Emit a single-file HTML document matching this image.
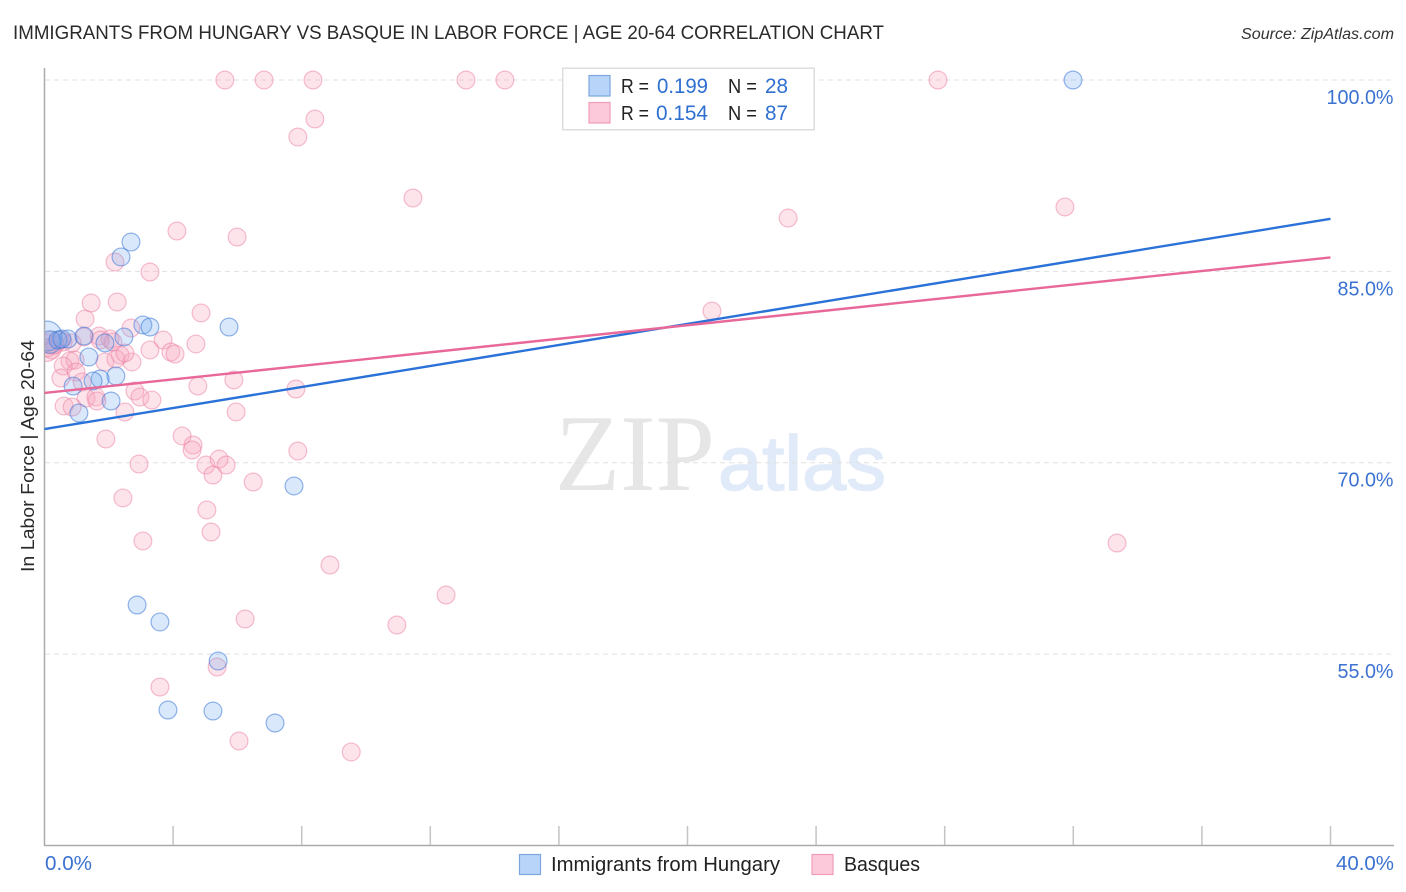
<!DOCTYPE html>
<html lang="en">
<head>
<meta charset="utf-8">
<title>Immigrants from Hungary vs Basque in Labor Force | Age 20-64 Correlation Chart</title>
<style>
html,body{margin:0;padding:0;background:#fff;}
svg{display:block;font-family:"Liberation Sans",sans-serif;}
</style>
</head>
<body>
<svg id="chart" xmlns="http://www.w3.org/2000/svg" width="1406" height="892" viewBox="0 0 1406 892">
  <defs>
    <clipPath id="plot-clip"><rect x="45" y="60" width="1355" height="785"/></clipPath>
  </defs>
  <rect x="0" y="0" width="1406" height="892" fill="#ffffff"/>

  <text x="13" y="39" font-size="19.5" fill="#2a2a2a" textLength="871" lengthAdjust="spacingAndGlyphs">IMMIGRANTS FROM HUNGARY VS BASQUE IN LABOR FORCE | AGE 20-64 CORRELATION CHART</text>
  <text x="1394" y="39" font-size="15.5" font-style="italic" fill="#333" text-anchor="end" textLength="153" lengthAdjust="spacingAndGlyphs">Source: ZipAtlas.com</text>

  <g>
    <text x="555" y="490" font-family="'Liberation Serif',serif" font-size="109" fill="#e6e6e6" textLength="160" lengthAdjust="spacingAndGlyphs">ZIP</text>
    <text x="718" y="490" font-size="77" fill="#e0eaf9" stroke="#e0eaf9" stroke-width="1.5" textLength="168" lengthAdjust="spacingAndGlyphs">atlas</text>
  </g>

  <g id="grid"></g>
  <g id="axes"></g>
  <g id="points" clip-path="url(#plot-clip)"></g>
  <g id="trends"></g>
  <g id="labels"></g>

  <text transform="translate(34,456) rotate(-90)" font-size="18.5" fill="#2a2a2a" text-anchor="middle" textLength="232" lengthAdjust="spacingAndGlyphs">In Labor Force | Age 20-64</text>

  <g>
    <rect x="562.75" y="68.25" width="251.5" height="61.5" fill="#ffffff" stroke="#dddddd" stroke-width="1.5"/>
    <rect x="589" y="75.5" width="21" height="20.5" fill="#b9d4f9" stroke="#7ba6e0" stroke-width="1.2"/>
    <rect x="589" y="102.5" width="21" height="20.5" fill="#fcc9da" stroke="#f09db9" stroke-width="1.2"/>
    <text x="621" y="93" font-size="20" fill="#222" textLength="28" lengthAdjust="spacingAndGlyphs">R =</text>
    <text x="657" y="93" font-size="21" fill="#2f6fd0" textLength="51" lengthAdjust="spacingAndGlyphs">0.199</text>
    <text x="728" y="93" font-size="20" fill="#222" textLength="29" lengthAdjust="spacingAndGlyphs">N =</text>
    <text x="765" y="93" font-size="21" fill="#2f6fd0" textLength="23" lengthAdjust="spacingAndGlyphs">28</text>
    <text x="621" y="120" font-size="20" fill="#222" textLength="28" lengthAdjust="spacingAndGlyphs">R =</text>
    <text x="656" y="120" font-size="21" fill="#2f6fd0" textLength="52" lengthAdjust="spacingAndGlyphs">0.154</text>
    <text x="728" y="120" font-size="20" fill="#222" textLength="29" lengthAdjust="spacingAndGlyphs">N =</text>
    <text x="765" y="120" font-size="21" fill="#2f6fd0" textLength="23" lengthAdjust="spacingAndGlyphs">87</text>
  </g>

  <g>
    <rect x="519.5" y="854.5" width="21" height="20" fill="#b9d4f9" stroke="#7ba6e0" stroke-width="1.2"/>
    <text x="551" y="871" font-size="20" fill="#222" textLength="229" lengthAdjust="spacingAndGlyphs">Immigrants from Hungary</text>
    <rect x="812" y="854.5" width="21" height="20" fill="#fcc9da" stroke="#f09db9" stroke-width="1.2"/>
    <text x="844" y="871" font-size="20" fill="#222" textLength="76" lengthAdjust="spacingAndGlyphs">Basques</text>
  </g>
</svg>
<script>
const yTicks = [100, 85, 70, 55];
const yTickLabels = ["100.0%", "85.0%", "70.0%", "55.0%"];
const xTicks = [0, 4, 8, 12, 16, 20, 24, 28, 32, 36, 40];
const xEndLabels = ["0.0%", "40.0%"];

const hungaryX = [0.08,0.73,1.23,1.88,2.47,3.06,3.28,5.74,1.38,2.22,1.73,1.51,0.89,2.07,1.07,2.69,2.38,7.76,2.88,3.59,5.40,3.84,5.24,7.17,31.99,0.17,0.42,0.54];
const hungaryY = [79.93,79.70,79.93,79.39,79.86,80.80,80.64,80.64,78.29,76.80,76.56,76.41,76.01,74.84,73.90,87.30,86.13,68.18,58.85,57.52,54.46,50.62,50.54,49.60,100,79.46,79.62,79.70];
const hungaryWeight = [2.8,1,1,1,1,1,1,1,1,1,1,1,1,1,1,1,1,1,1,1,1,1,1,1,1,1.6,1,1];

const basquesX = [5.61,6.83,8.35,13.11,14.32,27.79,8.41,7.88,11.46,23.13,31.74,4.12,5.99,2.19,3.28,20.76,33.36,1.45,2.26,4.87,1.26,2.69,1.70,2.04,3.69,4.71,3.28,3.93,4.06,2.35,2.72,1.88,2.22,0.79,0.95,0.58,0.98,0.51,1.17,4.77,5.89,2.81,2.97,3.34,1.29,1.60,1.63,0.61,0.86,2.50,5.96,1.91,4.28,4.62,4.59,2.94,5.02,5.43,5.65,5.24,7.88,6.49,2.44,5.05,5.18,3.06,8.88,12.49,10.96,6.24,5.37,3.59,6.05,9.54,7.82,0.05,0.23,0.58,0.86,1.23,0.33,0.23,2.13,2.50,1.73,0.08,0.48];
const basquesY = [100,100,100,100,100,100,96.94,95.53,90.75,89.18,90.05,88.16,87.69,85.73,84.95,81.89,63.71,82.52,82.60,81.74,81.27,80.56,79.93,79.70,79.62,79.31,78.84,78.68,78.52,78.44,77.90,77.90,78.13,77.97,78.05,77.58,77.11,76.64,76.33,76.01,76.49,75.62,75.15,74.92,75.07,75.15,74.84,74.45,74.37,73.98,73.98,71.86,72.10,71.39,71.00,69.90,69.82,70.29,69.82,69.04,70.92,68.49,67.24,66.30,64.57,63.87,61.98,59.63,57.28,57.75,53.99,52.42,48.19,47.33,75.78,79.00,79.40,79.46,79.39,79.86,79.23,78.84,79.46,78.60,79.62,78.99,79.62];
const basquesWeight = [1,1,1,1,1,1,1,1,1,1,1,1,1,1,1,1,1,1,1,1,1,1,1,1,1,1,1,1,1,1,1,1,1,1,1,1,1,1,1,1,1,1,1,1,1,1,1,1,1,1,1,1,1,1,1,1,1,1,1,1,1,1,1,1,1,1,1,1,1,1,1,1,1,1,1,2.3,1.6,1,1,1,1,1,1,1,1,1,1];

const trendX = [0, 40];
const hungaryTrend = [72.64, 89.12];
const basquesTrend = [75.47, 86.09];

const NS = "http://www.w3.org/2000/svg";
const xScale = v => 44.5 + v * 32.15;
const yScale = v => 80 + (100 - v) * 12.758;

function make(tag, attrs) {
  const el = document.createElementNS(NS, tag);
  for (const k in attrs) el.setAttribute(k, attrs[k]);
  return el;
}

const grid = document.getElementById("grid");
yTicks.forEach(function (t) {
  const line = make("line", {x1: 45, x2: 1394, y1: yScale(t), y2: yScale(t), stroke: "#e0e0e0", "stroke-width": 1, "stroke-dasharray": "5 4"});
  
  
  grid.appendChild(line);
});

const axes = document.getElementById("axes");
const yAxis = make("line", {x1: 44.5, x2: 44.5, y1: 68, y2: 846, stroke: "#ababab", "stroke-width": 1.5});


axes.appendChild(yAxis);
const xAxis = make("line", {x1: 44, x2: 1394, y1: 845.5, y2: 845.5, stroke: "#ababab", "stroke-width": 1.5});


axes.appendChild(xAxis);
xTicks.slice(1).forEach(function (t) {
  const tick = make("line", {x1: xScale(t), x2: xScale(t), y1: 826, y2: 845, stroke: "#c4c4c4", "stroke-width": 1.5});
  
  
  axes.appendChild(tick);
});

const points = document.getElementById("points");
basquesX.forEach(function (x, i) {
  const c = make("circle", {cx: xScale(x), cy: yScale(basquesY[i]), r: 8.9 * Math.sqrt(basquesWeight[i]), fill: "rgba(247,165,190,0.30)", stroke: "rgba(236,130,165,0.52)", "stroke-width": 1.2});
  
  
  points.appendChild(c);
});
hungaryX.forEach(function (x, i) {
  const c = make("circle", {cx: xScale(x), cy: yScale(hungaryY[i]), r: 8.9 * Math.sqrt(hungaryWeight[i]), fill: "rgba(110,165,240,0.26)", stroke: "rgba(60,120,215,0.55)", "stroke-width": 1.2});
  
  
  points.appendChild(c);
});

const trends = document.getElementById("trends");
const hungaryLine = make("line", {x1: xScale(trendX[0]), y1: yScale(hungaryTrend[0]), x2: xScale(trendX[1]), y2: yScale(hungaryTrend[1]), stroke: "#2a72d8", "stroke-width": 2.4});


trends.appendChild(hungaryLine);
const basquesLine = make("line", {x1: xScale(trendX[0]), y1: yScale(basquesTrend[0]), x2: xScale(trendX[1]), y2: yScale(basquesTrend[1]), stroke: "#e8689a", "stroke-width": 2.4});


trends.appendChild(basquesLine);

const labels = document.getElementById("labels");
const yLabelWidths = [67, 56, 56, 56];
yTickLabels.forEach(function (s, i) {
  const t = make("text", {x: 1393.5, y: yScale(yTicks[i]) + 24, "text-anchor": "end", "font-size": 20, fill: "#3b72d2", textLength: yLabelWidths[i], lengthAdjust: "spacingAndGlyphs"});
  
  
  t.textContent = s;
  labels.appendChild(t);
});
const xLeft = make("text", {x: 45, y: 870, "font-size": 20, fill: "#3b72d2", textLength: 47, lengthAdjust: "spacingAndGlyphs"});


xLeft.textContent = xEndLabels[0];
labels.appendChild(xLeft);
const xRight = make("text", {x: 1394, y: 870, "font-size": 20, "text-anchor": "end", fill: "#3b72d2", textLength: 58, lengthAdjust: "spacingAndGlyphs"});


xRight.textContent = xEndLabels[1];
labels.appendChild(xRight);
</script>
</body>
</html>
